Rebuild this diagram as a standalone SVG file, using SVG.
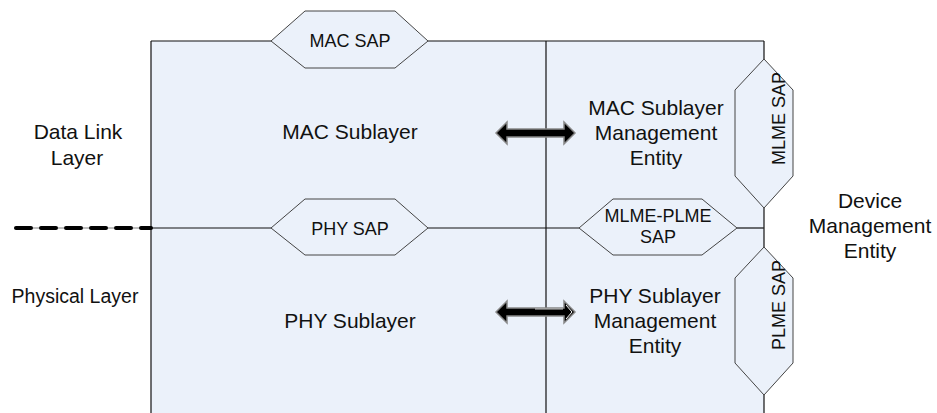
<svg xmlns="http://www.w3.org/2000/svg" width="937" height="413" viewBox="0 0 937 413">
<style>
  text { font-family: "Liberation Sans", Arial, sans-serif; fill: #111; }
  .big { font-size: 21px; text-anchor: middle; }
  .sap { font-size: 18px; text-anchor: middle; }
  .hex { fill: #EBF1FA; stroke: #444; stroke-width: 1; }
  .ln { stroke: #111; stroke-width: 1.2; fill: none; }
  .arr { fill: #000; stroke: #888; stroke-width: 1.5; stroke-linejoin: miter; }
</style>
<rect width="937" height="413" fill="#fff"/>
<g id="layers">
  <rect x="151" y="41" width="613" height="380" fill="#EBF1FA"/>
</g>
<g id="connectors">
  <line class="ln" x1="151" y1="41" x2="151" y2="413"/>
  <line class="ln" x1="546" y1="41" x2="546" y2="413"/>
  <line class="ln" x1="151" y1="41" x2="271" y2="41"/>
  <line class="ln" x1="428" y1="41" x2="764" y2="41"/>
  <line class="ln" x1="764" y1="41" x2="764" y2="59"/>
  <line class="ln" x1="764" y1="208" x2="764" y2="247"/>
  <line class="ln" x1="764" y1="395" x2="764" y2="413"/>
  <line class="ln" x1="151" y1="228" x2="271" y2="228"/>
  <line class="ln" x1="428" y1="228" x2="579" y2="228"/>
  <line class="ln" x1="737" y1="228" x2="764" y2="228"/>
  <line x1="14" y1="228" x2="151" y2="228" stroke="#aaa" stroke-width="1.5"/>
  <line x1="16" y1="228" x2="151" y2="228" stroke="#000" stroke-width="4" stroke-dasharray="15 10" stroke-linecap="round"/>
  <polygon class="arr" points="496,133 507,122 507,129 564,129 564,122 575,133 564,144 564,137 507,137 507,144"/>
  <polygon class="arr" points="496,312 507,301 507,308 564,308 564,301 575,312 564,323 564,316 507,316 507,323"/>
  <polyline points="566,305 572,312 566,319" fill="none" stroke="#fff" stroke-width="1"/>
  <line x1="535" y1="309" x2="563" y2="309" stroke="#fff" stroke-width="0.8"/>
</g>
<g id="mac-sap">
  <polygon class="hex" points="271,41 305,11 395,11 428,41 395,68 305,68"/>
  <text class="sap" x="350" y="47">MAC SAP</text>
</g>
<g id="phy-sap">
  <polygon class="hex" points="271,228 305,199 395,199 428,228 395,255 305,255"/>
  <text class="sap" x="350" y="235">PHY SAP</text>
</g>
<g id="mlme-plme-sap">
  <polygon class="hex" points="579,228 613,199 702,199 737,228 702,255 613,255"/>
  <text class="sap" x="658" y="222">MLME-PLME</text>
  <text class="sap" x="658" y="243">SAP</text>
</g>
<g id="mlme-sap">
  <polygon class="hex" points="764,59 793,90 793,176 764,208 735,176 735,90"/>
  <text class="sap" transform="translate(785,118.5) rotate(-90)" x="0" y="0">MLME SAP</text>
</g>
<g id="plme-sap">
  <polygon class="hex" points="764,247 793,278 793,363 764,395 735,363 735,278"/>
  <text class="sap" transform="translate(785,305) rotate(-90)" x="0" y="0">PLME SAP</text>
</g>
<g id="data-link-layer">
  <text class="big" x="78" y="139">Data Link</text>
  <text class="big" x="77" y="165">Layer</text>
</g>
<g id="physical-layer">
  <text class="big" x="75" y="303" style="font-size:19.5px">Physical Layer</text>
</g>
<g id="mac-sublayer">
  <text class="big" x="350" y="139">MAC Sublayer</text>
</g>
<g id="phy-sublayer">
  <text class="big" x="350" y="328">PHY Sublayer</text>
</g>
<g id="mac-sme">
  <text class="big" x="656" y="115">MAC Sublayer</text>
  <text class="big" x="656" y="140">Management</text>
  <text class="big" x="656" y="165">Entity</text>
</g>
<g id="phy-sme">
  <text class="big" x="655" y="303">PHY Sublayer</text>
  <text class="big" x="655" y="328">Management</text>
  <text class="big" x="655" y="353">Entity</text>
</g>
<g id="device-management-entity">
  <text class="big" x="870" y="208">Device</text>
  <text class="big" x="870" y="233">Management</text>
  <text class="big" x="870" y="258">Entity</text>
</g>
</svg>
